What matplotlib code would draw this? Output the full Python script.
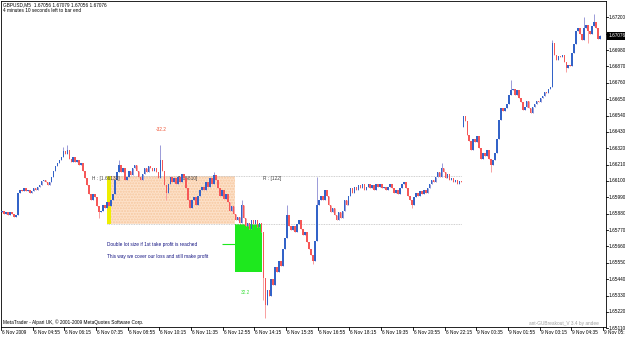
import matplotlib
matplotlib.use("Agg")
import matplotlib.pyplot as plt
from matplotlib.patches import Rectangle
from matplotlib import font_manager

# ---------------- data ----------------
closes = [
    1.6590, 1.6588, 1.6589, 1.6587, 1.6589, 1.6588, 1.6586, 1.6587, 1.6602, 1.6604,
    1.6603, 1.6605, 1.6603, 1.6604, 1.6602, 1.6603, 1.6605, 1.6604, 1.6606, 1.6607,
    1.6610, 1.6611, 1.6609, 1.6607, 1.6609, 1.6613, 1.6617, 1.6620, 1.6622, 1.6624,
    1.6626, 1.6630, 1.6628, 1.6631, 1.6625, 1.6623, 1.6626, 1.6623, 1.6624, 1.6621,
    1.6622, 1.6617, 1.6612, 1.6607, 1.6601, 1.6597, 1.6601, 1.6599, 1.6593, 1.6589,
    1.6590, 1.6594, 1.6592, 1.6596, 1.6593, 1.6597, 1.6601, 1.6611, 1.6616, 1.6621,
    1.6616, 1.6619, 1.6611, 1.6613, 1.6617, 1.6614, 1.6619, 1.6621, 1.6617, 1.6613,
    1.6611, 1.6615, 1.6619, 1.6616, 1.6620, 1.6619, 1.6617, 1.6619, 1.6616, 1.6612,
    1.6624, 1.6617, 1.6607, 1.6602, 1.6608, 1.6613, 1.6609, 1.6612, 1.6608, 1.6613,
    1.6609, 1.6615, 1.6612, 1.6605, 1.6597, 1.6592, 1.6597, 1.6599, 1.6594, 1.6600,
    1.6604, 1.6606, 1.6604, 1.6609, 1.6606, 1.6612, 1.6608, 1.6614, 1.6611, 1.6605,
    1.6600, 1.6604, 1.6598, 1.6601, 1.6596, 1.6590, 1.6593, 1.6588, 1.6584, 1.6586,
    1.6582, 1.6594, 1.6585, 1.6580, 1.6582, 1.6578, 1.6584, 1.6581, 1.6584, 1.6579,
    1.6582, 1.6576, 1.6545, 1.6527, 1.6537, 1.6533, 1.6544, 1.6540, 1.6552, 1.6549,
    1.6556, 1.6553, 1.6564, 1.6572, 1.6587, 1.6580, 1.6577, 1.6580, 1.6576, 1.6581,
    1.6584, 1.6578, 1.6574, 1.6576, 1.6569, 1.6564, 1.6560, 1.6556, 1.6570, 1.6594,
    1.6597, 1.6600, 1.6597, 1.6604, 1.6600, 1.6594, 1.6589, 1.6592, 1.6587, 1.6584,
    1.6589, 1.6585, 1.6590, 1.6597, 1.6594, 1.6600, 1.6605, 1.6602, 1.6606, 1.6604,
    1.6607, 1.6605, 1.6608, 1.6604, 1.6606, 1.6608, 1.6605, 1.6607, 1.6604, 1.6608,
    1.6606, 1.6608, 1.6605, 1.6606, 1.6604, 1.6606, 1.6608, 1.6605, 1.6602, 1.6604,
    1.6601, 1.6605, 1.6608, 1.6609, 1.6605, 1.6600, 1.6597, 1.6594, 1.6599, 1.6602,
    1.6600, 1.6603, 1.6601, 1.6604, 1.6602, 1.6605, 1.6608, 1.6611, 1.6609, 1.6613,
    1.6616, 1.6613, 1.6619, 1.6616, 1.6612, 1.6615, 1.6611, 1.6612, 1.6609, 1.6611,
    1.6608, 1.6610, 1.6609, 1.6654, 1.6650, 1.6641, 1.6637, 1.6631, 1.6638, 1.6636,
    1.6640, 1.6632, 1.6625, 1.6629, 1.6627, 1.6631, 1.6625, 1.6621, 1.6624, 1.6629,
    1.6638, 1.6651, 1.6659, 1.6657, 1.6659, 1.6662, 1.6668, 1.6671, 1.6672, 1.6668,
    1.6671, 1.6666, 1.6663, 1.6658, 1.6660, 1.6664, 1.6659, 1.6656, 1.6660, 1.6662,
    1.6664, 1.6663, 1.6666, 1.6667, 1.6670, 1.6669, 1.6672, 1.6673, 1.6703, 1.6695,
    1.6691, 1.6694, 1.6693, 1.6695, 1.6690, 1.6686, 1.6688, 1.6687, 1.6696, 1.6702,
    1.6711, 1.6713, 1.6709, 1.6705, 1.6713, 1.6715, 1.6711, 1.6709, 1.6714, 1.6717,
    1.6713, 1.67056, 1.67076,
]
first_open = 1.6589
open_overrides = {233: 1.6646}          # weekend gap
high_overrides = {31: 1.6633, 33: 1.6634, 59: 1.6624, 80: 1.6634, 107: 1.6616,
                  121: 1.6597, 144: 1.6594, 159: 1.6613, 222: 1.6622, 257: 1.6678,
                  278: 1.6705, 294: 1.6720, 299: 1.6722, 302: 1.67079}
low_overrides = {49: 1.6585, 83: 1.6597, 132: 1.6530, 133: 1.6518, 157: 1.6554,
                 207: 1.6592, 247: 1.6616, 285: 1.6683, 296: 1.6703, 302: 1.67056}

time_labels = ["6 Nov 2009", "6 Nov 04:55", "6 Nov 06:15", "6 Nov 07:35", "6 Nov 08:55",
               "6 Nov 10:15", "6 Nov 11:35", "6 Nov 12:55", "6 Nov 14:15", "6 Nov 15:35",
               "6 Nov 16:55", "6 Nov 18:15", "6 Nov 19:35", "6 Nov 20:55", "6 Nov 22:15",
               "9 Nov 00:35", "9 Nov 01:55", "9 Nov 03:15", "9 Nov 04:35", "9 Nov 05:55"]
bars_per_label = 16
price_ticks = [1.67200, 1.67090, 1.66980, 1.66870, 1.66760, 1.66650, 1.66540, 1.66430,
               1.66320, 1.66210, 1.66100, 1.65990, 1.65880, 1.65770, 1.65660, 1.65550,
               1.65440, 1.65330, 1.65220, 1.65110]
current_price = 1.67076
level_high = 1.66132
level_low = 1.65810
target_low = 1.65488
range_label = "R : [122]"

# ---------------- layout helpers ----------------
W, H = 625, 337
XS = 1.98                      # pixels per bar
X0 = 2.0                       # pixel of bar 0
PS = 0.0011 / 16.37            # price per pixel
Y0 = 17.3                      # pixel of 1.67200

def bx(px):
    return (px - X0) / XS

def py(p):
    return Y0 + (1.67200 - p) / PS

def pp(y):
    return 1.67200 - (y - Y0) * PS

def fx(px):
    return px / W

def fy(y):
    return 1 - y / H

avail = {f.name for f in font_manager.fontManager.ttflist}
if 'Liberation Sans Narrow' in avail:
    FAM, FS = ['Liberation Sans Narrow', 'DejaVu Sans'], 4.4
elif 'Liberation Sans' in avail:
    FAM, FS = ['Liberation Sans', 'DejaVu Sans'], 3.4
else:
    FAM, FS = ['DejaVu Sans'], 3.1

fig = plt.figure(figsize=(W / 100, H / 100), dpi=100)
fig.patch.set_facecolor('white')
L_PX, R_PX, T_PX, B_PX = 1, 606, 1, 327
ax = fig.add_axes([fx(L_PX), fy(B_PX), (R_PX - L_PX) / W, (B_PX - T_PX) / H])
ax.set_xlim(bx(L_PX), bx(R_PX))
ax.set_ylim(pp(B_PX), pp(T_PX))
ax.set_xticks([])
ax.set_yticks([])
for s in ax.spines.values():
    s.set_color('#000000')
    s.set_linewidth(0.6)

# ---------------- objects behind candles ----------------
ax.add_patch(Rectangle((bx(111), level_low), bx(235) - bx(111), level_high - level_low,
                       facecolor='#fde1c9', edgecolor='#f6c8a0', hatch='......',
                       linewidth=0, zorder=1))
ax.add_patch(Rectangle((bx(107), level_low), bx(111) - bx(107), level_high - level_low,
                       facecolor='#eeee00', edgecolor='none', zorder=1))
ax.add_patch(Rectangle((bx(235), target_low), bx(262) - bx(235), level_low - target_low,
                       facecolor='#1ee81e', edgecolor='none', zorder=1))
ax.hlines([level_high, level_low], bx(107), bx(462), colors='#c0c0c0',
          linestyles=(0, (1, 1)), linewidth=0.6, zorder=1)
ax.hlines(pp(244), bx(222), bx(235), colors='#1ee81e', linewidth=0.8, zorder=1)

# ---------------- candles ----------------
opens, highs, lows = [], [], []
prev = first_open
for i, c in enumerate(closes):
    o = open_overrides.get(i, prev)
    opens.append(o)
    highs.append(high_overrides.get(i, max(o, c)))
    lows.append(low_overrides.get(i, min(o, c)))
    prev = c

bull_body, bear_body = '#3363c8', '#f65858'
bull_wick, bear_wick = '#9a9ad8', '#f8a0a0'
idx = list(range(len(closes)))
up = [i for i in idx if closes[i] >= opens[i]]
dn = [i for i in idx if closes[i] < opens[i]]
ax.vlines(up, [lows[i] for i in up], [highs[i] for i in up], colors=bull_wick, linewidth=0.7, zorder=2)
ax.vlines(dn, [lows[i] for i in dn], [highs[i] for i in dn], colors=bear_wick, linewidth=0.7, zorder=2)
minh = PS * 0.8
ax.bar(up, [max(closes[i] - opens[i], minh) for i in up], bottom=[opens[i] for i in up],
       width=0.8, color=bull_body, linewidth=0, zorder=3)
ax.bar(dn, [max(opens[i] - closes[i], minh) for i in dn], bottom=[closes[i] for i in dn],
       width=0.8, color=bear_body, linewidth=0, zorder=3)

# ---------------- object labels ----------------
tk = dict(family=FAM, fontsize=FS)
ax.text(bx(92), level_high, "H : [%.5f]" % level_high, va='top', ha='left', color='#404040', zorder=4, **tk)
ax.text(bx(178), level_high, "[%.5f]" % level_low, va='top', ha='left', color='#404040', zorder=1.5, **tk)
ax.text(bx(263), level_high, range_label, va='top', ha='left', color='#404040', zorder=4, **tk)
ax.text(bx(161), pp(129), "-%.1f" % ((level_high - level_low) * 10000), ha='center', va='center',
        color='#f05030', zorder=4, **tk)
ax.text(bx(245), pp(292), "%.1f" % ((level_low - target_low) * 10000), ha='center', va='center',
        color='#40e040', zorder=4, **tk)
ax.text(bx(107), pp(244), "Double lot size if 1st take profit is reached", ha='left', va='center',
        color='#101080', zorder=4, **tk)
ax.text(bx(107), pp(256), "This way we cover our loss and still make profit", ha='left', va='center',
        color='#101080', zorder=4, **tk)

# ---------------- chart texts ----------------
fig.text(fx(3), fy(5), "GBPUSD,M5  1.67056 1.67079 1.67056 1.67076", ha='left', va='center', color='black', **tk)
fig.text(fx(3), fy(10.5), "4 minutes 10 seconds left to bar end", ha='left', va='center', color='black', **tk)
fig.text(fx(3), fy(322), "MetaTrader - Alpari UK, \u00a9 2001-2009 MetaQuotes Software Corp.",
         ha='left', va='center', color='black', **tk)
fig.text(fx(599), fy(323), "ant-GUBreakout_V 3.4 by andee", ha='right', va='center', color='#a0a0a0', **tk)

# price axis (the label under the current-price box is hidden, as in the terminal)
yc = py(current_price)
for p in price_ticks:
    yy = py(p)
    fig.add_artist(plt.Line2D([fx(R_PX), fx(R_PX + 2)], [fy(yy), fy(yy)], color='black', linewidth=0.6))
    if abs(yy - yc) > 6:
        fig.text(fx(R_PX + 2.5), fy(yy), "%.5f" % p, ha='left', va='center', color='black', **tk)
fig.add_artist(Rectangle((fx(R_PX + 1), fy(yc + 4)), (W - R_PX - 1) / W, 8 / H,
                         transform=fig.transFigure, facecolor='black', edgecolor='none', zorder=5))
fig.text(fx(R_PX + 2.5), fy(yc), "%.5f" % current_price, ha='left', va='center', color='white', zorder=6, **tk)

# time axis
for k, lab in enumerate(time_labels):
    xpix = X0 + XS * k * bars_per_label - 1
    fig.add_artist(plt.Line2D([fx(xpix), fx(xpix)], [fy(B_PX), fy(B_PX + 3)], color='black', linewidth=0.6))
    fig.text(fx(xpix + 1), fy(332), lab, ha='left', va='center', color='black', **tk)

fig.savefig("out.png", dpi=100, facecolor='white')
